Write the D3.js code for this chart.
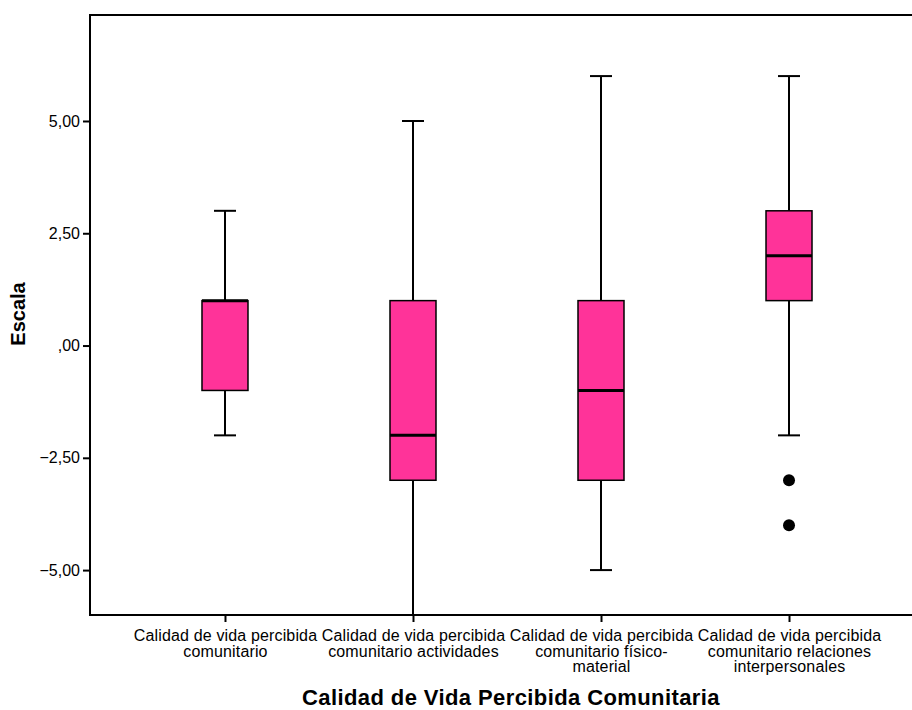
<!DOCTYPE html>
<html>
<head>
<meta charset="utf-8">
<script src="https://cdn.jsdelivr.net/npm/d3@7"></script>
<style>
  body { margin: 0; background: #fff; }
  text { font-family: "Liberation Sans", Arial, sans-serif; fill: #000; }
</style>
</head>
<body>
<div id="chart"></div>
<script>
// categories (each entry split into display lines)
const categories = [
  ["Calidad de vida percibida", "comunitario"],
  ["Calidad de vida percibida", "comunitario actividades"],
  ["Calidad de vida percibida", "comunitario físico-", "material"],
  ["Calidad de vida percibida", "comunitario relaciones", "interpersonales"]
]
const whisker_low = [-2, -6, -5, -2]
const q1 = [-1, -3, -3, 1]
const median = [1, -2, -1, 2]
const q3 = [1, 1, 1, 3]
const whisker_high = [3, 5, 6, 6]
const outliers = [[], [], [], [-3, -4]]
const y_ticks = [-5, -2.5, 0, 2.5, 5]

const width = 912
const height = 710
const plot_left = 90, plot_right = 924, plot_top = 15, plot_bottom = 615

const svg = d3.select("#chart")
  .append("svg")
  .attr("width", width)
  .attr("height", height)

const x = d3.scalePoint()
  .domain(d3.range(categories.length))
  .range([plot_left, plot_right])
  .padding(0.718)

const y = d3.scaleLinear()
  .domain([-6.0, 7.36])
  .range([plot_bottom, plot_top])

const fmt = (v) => {
  let s = d3.format(".2f")(v).replace(".", ",")
  return s.replace(/^0,/, ",").replace(/^-0,/, "-,")
}

// frame (left, top, bottom)
svg.append("path")
  .attr("d", `M${width},${plot_top}H${plot_left}V${plot_bottom}H${width}`)
  .attr("fill", "none")
  .attr("stroke", "#000")
  .attr("stroke-width", 2)

// y axis
const yAxis = svg.append("g")
  .attr("transform", `translate(${plot_left},0)`)
  .call(d3.axisLeft(y).tickValues(y_ticks).tickFormat(fmt).tickSize(7).tickPadding(3))
yAxis.select(".domain").remove()
yAxis.selectAll(".tick line").attr("stroke-width", 2)
yAxis.selectAll(".tick text")
  .style("font-size", "16px")
  .style("font-family", "'Liberation Sans', Arial, sans-serif")

// x axis
const xAxis = svg.append("g")
  .attr("transform", `translate(0,${plot_bottom})`)
  .call(d3.axisBottom(x).tickSize(7).tickFormat(""))
xAxis.select(".domain").remove()
xAxis.selectAll(".tick line").attr("stroke-width", 2)

xAxis.selectAll(".tick")
  .append("text")
  .attr("text-anchor", "middle")
  .style("font-size", "16px")
  .style("letter-spacing", "0.15px")
  .style("font-family", "'Liberation Sans', Arial, sans-serif")
  .selectAll("tspan")
  .data(i => categories[i])
  .join("tspan")
  .attr("x", 0)
  .attr("y", (d, j) => 26 + j * 15.5)
  .text(d => d)

// boxes
const box_w = 46, cap_w = 22
const groups = svg.selectAll("g.box")
  .data(d3.range(categories.length))
  .join("g")
  .attr("class", "box")
  .attr("transform", i => `translate(${x(i)},0)`)

groups.append("line")
  .attr("y1", i => y(whisker_low[i]))
  .attr("y2", i => y(q1[i]))
  .attr("stroke", "#000").attr("stroke-width", 2)
groups.append("line")
  .attr("y1", i => y(q3[i]))
  .attr("y2", i => y(whisker_high[i]))
  .attr("stroke", "#000").attr("stroke-width", 2)
groups.append("line")
  .attr("x1", -cap_w / 2).attr("x2", cap_w / 2)
  .attr("y1", i => y(whisker_low[i])).attr("y2", i => y(whisker_low[i]))
  .attr("stroke", "#000").attr("stroke-width", 2)
groups.append("line")
  .attr("x1", -cap_w / 2).attr("x2", cap_w / 2)
  .attr("y1", i => y(whisker_high[i])).attr("y2", i => y(whisker_high[i]))
  .attr("stroke", "#000").attr("stroke-width", 2)

groups.append("rect")
  .attr("x", -box_w / 2)
  .attr("width", box_w)
  .attr("y", i => y(q3[i]))
  .attr("height", i => y(q1[i]) - y(q3[i]))
  .attr("fill", "#ff3399")
  .attr("stroke", "#000")
  .attr("stroke-width", 1.5)

groups.append("line")
  .attr("x1", -box_w / 2).attr("x2", box_w / 2)
  .attr("y1", i => y(median[i])).attr("y2", i => y(median[i]))
  .attr("stroke", "#000").attr("stroke-width", 3)

groups.selectAll("circle")
  .data(i => outliers[i])
  .join("circle")
  .attr("r", 6)
  .attr("cy", d => y(d))
  .attr("fill", "#000")

// axis titles
svg.append("text")
  .attr("transform", `translate(25,314) rotate(-90)`)
  .attr("text-anchor", "middle")
  .style("font-size", "20px")
  .style("font-weight", "bold")
  .text("Escala")

svg.append("text")
  .attr("x", 511)
  .attr("y", 705)
  .attr("text-anchor", "middle")
  .style("font-size", "22px")
  .style("letter-spacing", "0.4px")
  .style("font-weight", "bold")
  .text("Calidad de Vida Percibida Comunitaria")
</script>
</body>
</html>
